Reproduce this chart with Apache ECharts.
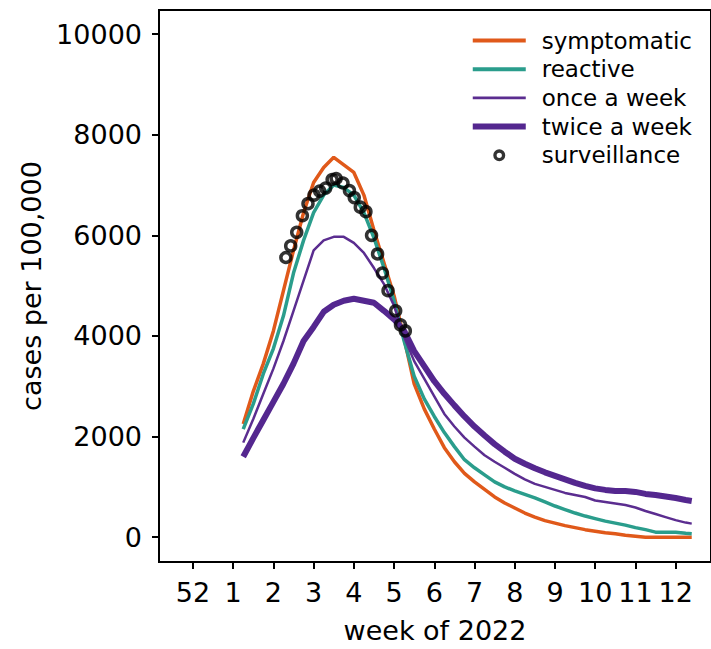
<!DOCTYPE html>
<html><head><meta charset="utf-8">
<script src="https://cdn.jsdelivr.net/npm/echarts@6/dist/echarts.min.js"></script>
<style>html,body{margin:0;padding:0;background:#fff}#c{width:711px;height:649px}</style>
</head><body><div id="c"></div>
<script>
// week of 2022 (week 52 of 2021 is placed at 0)
const weeks = [1.25,1.5,1.75,2.0,2.25,2.5,2.75,3.0,3.25,3.5,3.75,4.0,4.25,4.5,4.75,5.0,5.25,5.5,5.75,6.0,6.25,6.5,6.75,7.0,7.25,7.5,7.75,8.0,8.25,8.5,8.75,9.0,9.25,9.5,9.75,10.0,10.25,10.5,10.75,11.0,11.25,11.5,11.75,12.0,12.25,12.4];
const symptomatic = [2250,2900,3450,4100,4900,5700,6450,7050,7350,7550,7400,7250,6800,6100,5450,4800,3950,3050,2550,2150,1780,1500,1270,1100,950,800,680,580,480,400,330,280,230,190,150,120,90,70,40,20,0,0,0,0,0,0];
const reactive = [2150,2650,3250,3750,4400,5250,5900,6450,6800,7000,6950,6800,6450,5950,5350,4700,3900,3200,2750,2400,2080,1800,1540,1380,1240,1100,1000,920,850,780,700,620,550,480,420,370,320,280,240,190,150,100,100,100,80,70];
const onceWeek = [1880,2350,2850,3350,3900,4500,5100,5700,5900,5970,5970,5850,5650,5350,5030,4600,3980,3500,3150,2800,2450,2200,1980,1800,1630,1500,1380,1260,1150,1060,1000,940,880,840,800,730,700,670,640,590,520,460,400,340,290,270];
const twiceWeek = [1600,1970,2330,2690,3050,3450,3900,4180,4480,4620,4700,4740,4700,4660,4500,4330,4100,3700,3400,3100,2850,2620,2400,2200,2020,1850,1700,1560,1460,1370,1290,1220,1150,1080,1020,970,940,920,920,900,860,840,810,780,740,720];
const survWeeks = [2.31,2.43,2.58,2.72,2.86,3.01,3.15,3.30,3.46,3.56,3.73,3.89,4.01,4.16,4.30,4.44,4.59,4.71,4.85,5.04,5.16,5.28];
const survValues = [5560,5790,6060,6390,6630,6800,6880,6940,7110,7130,7040,6890,6750,6560,6470,6000,5630,5250,4900,4500,4220,4100];
const xTickValues = [0,1,2,3,4,5,6,7,8,9,10,11,12];
const xTickLabels = ['52','1','2','3','4','5','6','7','8','9','10','11','12'];
const yTickValues = [0,2000,4000,6000,8000,10000];

const FONT = 'DejaVu Sans';
const pair = (xs, ys) => xs.map((x, i) => [x, ys[i]]);
const C_SYM = '#e0591a', C_REA = '#2a9d8c', C_ONCE = '#5b2d90', C_TWICE = '#54278f';
const bar = h => 'path://M0,0H53V' + h + 'H0Z';
const ring = 'path://M5.5,0A5.5,5.5,0,1,1,5.5,11A5.5,5.5,0,1,1,5.5,0ZM5.5,3.1A2.4,2.4,0,1,0,5.5,7.9A2.4,2.4,0,1,0,5.5,3.1Z';

const chart = echarts.init(document.getElementById('c'), null, {renderer: 'svg'});
chart.setOption({
  animation: false,
  backgroundColor: '#fff',
  grid: {left: 159, right: -6, top: 10, bottom: 82, show: true, borderColor: '#000', borderWidth: 2, containLabel: false},
  xAxis: {
    type: 'value', min: -0.844, max: 12.879,
    axisLine: {onZero: false, lineStyle: {color: '#000', width: 2}},
    axisTick: {customValues: xTickValues, length: 7, lineStyle: {color: '#000', width: 2}},
    axisLabel: {customValues: xTickValues, formatter: v => xTickLabels[xTickValues.indexOf(v)], fontSize: 27, color: '#000', fontFamily: FONT, margin: 17},
    splitLine: {show: false},
    name: 'week of 2022', nameLocation: 'middle', nameGap: 55,
    nameTextStyle: {fontSize: 27, color: '#000', fontFamily: FONT}
  },
  yAxis: {
    type: 'value', min: -493, max: 10479,
    axisLine: {onZero: false, lineStyle: {color: '#000', width: 2}},
    axisTick: {customValues: yTickValues, length: 7, lineStyle: {color: '#000', width: 2}},
    axisLabel: {customValues: yTickValues, formatter: v => String(v), fontSize: 27, color: '#000', fontFamily: FONT, margin: 17},
    splitLine: {show: false},
    name: 'cases per 100,000', nameLocation: 'middle', nameGap: 110,
    nameTextStyle: {fontSize: 27, color: '#000', fontFamily: FONT}
  },
  legend: {
    orient: 'vertical', right: 14, top: 24, itemWidth: 53, itemHeight: 12, itemGap: 5.7,
    textStyle: {fontSize: 23, color: '#000', fontFamily: FONT, padding: [0, 0, 0, 11]},
    data: [
      {name: 'symptomatic', icon: bar(4), itemStyle: {color: C_SYM}},
      {name: 'reactive', icon: bar(4), itemStyle: {color: C_REA}},
      {name: 'once a week', icon: bar(2.8), itemStyle: {color: C_ONCE}},
      {name: 'twice a week', icon: bar(6), itemStyle: {color: C_TWICE}},
      {name: 'surveillance', icon: ring, itemStyle: {color: '#000', borderWidth: 0}}
    ]
  },
  series: [
    {name: 'symptomatic', type: 'line', symbol: 'none', data: pair(weeks, symptomatic), color: C_SYM, lineStyle: {width: 3.5, color: C_SYM}},
    {name: 'reactive', type: 'line', symbol: 'none', data: pair(weeks, reactive), color: C_REA, lineStyle: {width: 3.5, color: C_REA}},
    {name: 'once a week', type: 'line', symbol: 'none', data: pair(weeks, onceWeek), color: C_ONCE, lineStyle: {width: 2.5, color: C_ONCE}},
    {name: 'twice a week', type: 'line', symbol: 'none', data: pair(weeks, twiceWeek), color: C_TWICE, lineStyle: {width: 6, color: C_TWICE}},
    {name: 'surveillance', type: 'scatter', symbol: 'circle', symbolSize: 10, data: pair(survWeeks, survValues),
     itemStyle: {color: 'rgba(0,0,0,0)', borderColor: '#000', borderWidth: 3.5}, z: 5}
  ]
});
</script></body></html>
